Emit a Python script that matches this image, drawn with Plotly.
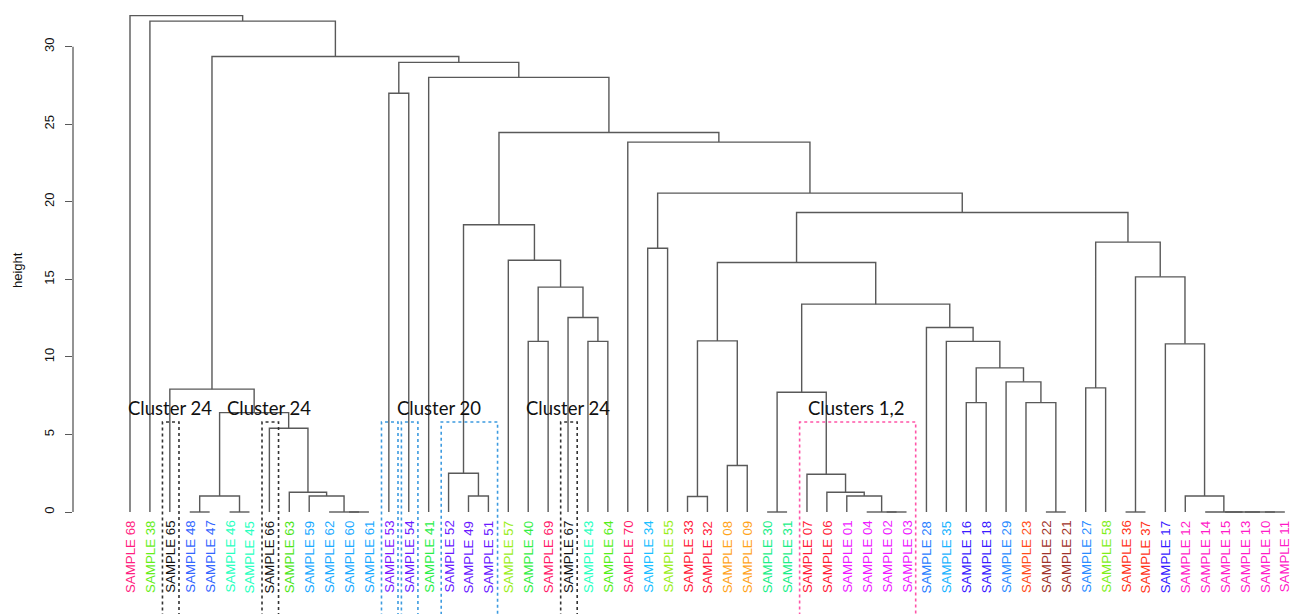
import plotly.graph_objects as go

# ---------------- data ----------------
leaf_labels = [
    "SAMPLE 68", "SAMPLE 38", "SAMPLE 65", "SAMPLE 48", "SAMPLE 47", "SAMPLE 46", "SAMPLE 45",
    "SAMPLE 66", "SAMPLE 63", "SAMPLE 59", "SAMPLE 62", "SAMPLE 60", "SAMPLE 61", "SAMPLE 53",
    "SAMPLE 54", "SAMPLE 41", "SAMPLE 52", "SAMPLE 49", "SAMPLE 51", "SAMPLE 57", "SAMPLE 40",
    "SAMPLE 69", "SAMPLE 67", "SAMPLE 43", "SAMPLE 64", "SAMPLE 70", "SAMPLE 34", "SAMPLE 55",
    "SAMPLE 33", "SAMPLE 32", "SAMPLE 08", "SAMPLE 09", "SAMPLE 30", "SAMPLE 31", "SAMPLE 07",
    "SAMPLE 06", "SAMPLE 01", "SAMPLE 04", "SAMPLE 02", "SAMPLE 03", "SAMPLE 28", "SAMPLE 35",
    "SAMPLE 16", "SAMPLE 18", "SAMPLE 29", "SAMPLE 23", "SAMPLE 22", "SAMPLE 21", "SAMPLE 27",
    "SAMPLE 58", "SAMPLE 36", "SAMPLE 37", "SAMPLE 17", "SAMPLE 12", "SAMPLE 14", "SAMPLE 15",
    "SAMPLE 13", "SAMPLE 10", "SAMPLE 11",
]

leaf_colors = [
    "#ff1e82", "#66ee1a", "#111111", "#3366ff", "#3366ff", "#2affc0", "#2affc0",
    "#111111", "#4ce61a", "#1aaaff", "#1aaaff", "#1aaaff", "#1aaaff", "#7b1aff",
    "#6a1aff", "#2aee4a", "#6a1aff", "#6a1aff", "#6a1aff", "#99ee1a", "#33ee44",
    "#ff1a6a", "#111111", "#2affc0", "#55ee1a", "#ff1a6a", "#1ac0ff", "#99ee1a",
    "#ff1a3a", "#ff1a3a", "#ffa31a", "#ffa31a", "#1aee88", "#1aee88", "#ff1a3a",
    "#ff1a3a", "#ee1aff", "#ee1aff", "#ee1aff", "#ee1aff", "#2a80ff", "#1ab3ff",
    "#3a1aff", "#3a1aff", "#2a8cff", "#ff4d1a", "#a0322a", "#a0322a", "#2a8cff",
    "#80ee1a", "#ff331a", "#ff331a", "#3a1aff", "#ff1ac8", "#ff1ac8", "#ff1ac8",
    "#ff1ac8", "#ff1ac8", "#ff1ac8",
]

# merge table (bottom-up): node name, left child, right child, merge height
node_names = [
    "n1", "n2", "F", "n3", "J", "I", "H", "G", "E", "C",
    "K", "n4", "P", "S", "U", "T", "R", "Q", "N", "W",
    "n5", "n6", "AA", "n7", "n8", "AC5", "AC4", "AC3", "AC2", "AC",
    "n9", "AH", "AG", "n10", "AF", "AE", "AD", "AB", "Y", "n11",
    "n12", "n13", "n14", "n15", "ZD", "ZC", "ZB", "ZA", "Z", "X",
    "V", "O", "M", "L", "D", "B", "A", "root",
]
node_left = [
    "SAMPLE 48", "SAMPLE 46", "n1", "SAMPLE 60", "SAMPLE 62", "SAMPLE 59", "SAMPLE 63", "SAMPLE 66", "F", "SAMPLE 65",
    "SAMPLE 53", "SAMPLE 49", "SAMPLE 52", "SAMPLE 40", "SAMPLE 43", "SAMPLE 67", "S", "SAMPLE 57", "P", "SAMPLE 34",
    "SAMPLE 33", "SAMPLE 08", "n5", "SAMPLE 30", "SAMPLE 02", "SAMPLE 04", "SAMPLE 01", "SAMPLE 06", "SAMPLE 07", "n7",
    "SAMPLE 22", "SAMPLE 23", "SAMPLE 29", "SAMPLE 16", "n10", "SAMPLE 35", "SAMPLE 28", "AC", "AA", "SAMPLE 27",
    "SAMPLE 36", "SAMPLE 10", "SAMPLE 13", "SAMPLE 15", "SAMPLE 14", "SAMPLE 12", "SAMPLE 17", "n12", "n11", "Y",
    "W", "SAMPLE 70", "N", "SAMPLE 41", "K", "C", "SAMPLE 38", "SAMPLE 68",
]
node_right = [
    "SAMPLE 47", "SAMPLE 45", "n2", "SAMPLE 61", "n3", "J", "I", "H", "G", "E",
    "SAMPLE 54", "SAMPLE 51", "n4", "SAMPLE 69", "SAMPLE 64", "U", "T", "R", "Q", "SAMPLE 55",
    "SAMPLE 32", "SAMPLE 09", "n6", "SAMPLE 31", "SAMPLE 03", "n8", "AC5", "AC4", "AC3", "AC2",
    "SAMPLE 21", "n9", "AH", "SAMPLE 18", "AG", "AF", "AE", "AD", "AB", "SAMPLE 58",
    "SAMPLE 37", "SAMPLE 11", "n13", "n14", "n15", "ZD", "ZC", "ZB", "ZA", "Z",
    "X", "V", "O", "M", "L", "D", "B", "A",
]
node_heights = [
    0.0, 0.0, 1.03, 0.0, 0.0, 1.03, 1.27, 5.40, 6.41, 7.92,
    27.0, 1.03, 2.50, 11.0, 11.0, 12.54, 14.5, 16.23, 18.52, 17.0,
    1.0, 3.0, 11.03, 0.0, 0.0, 0.0, 1.03, 1.27, 2.43, 7.72,
    0.0, 7.05, 8.39, 7.05, 9.29, 11.0, 11.9, 13.4, 16.09, 8.0,
    0.0, 0.0, 0.0, 0.0, 0.0, 1.03, 10.84, 15.16, 17.4, 19.31,
    20.56, 23.85, 24.47, 28.02, 28.99, 29.37, 31.65, 32.0,
]

# dotted highlight boxes
box_first = ["SAMPLE 65", "SAMPLE 66", "SAMPLE 53", "SAMPLE 54", "SAMPLE 52", "SAMPLE 67", "SAMPLE 07"]
box_last = ["SAMPLE 65", "SAMPLE 66", "SAMPLE 53", "SAMPLE 54", "SAMPLE 51", "SAMPLE 67", "SAMPLE 03"]
box_colors = ["#333333", "#333333", "#3d9be0", "#3d9be0", "#3d9be0", "#333333", "#ff55a8"]
box_top = 5.8

# cluster captions
cluster_texts = ["Cluster 24", "Cluster 24", "Cluster 20", "Cluster 24", "Clusters 1,2"]
cluster_first = ["SAMPLE 65", "SAMPLE 66", "SAMPLE 53", "SAMPLE 67", "SAMPLE 07"]
cluster_last = ["SAMPLE 65", "SAMPLE 66", "SAMPLE 51", "SAMPLE 67", "SAMPLE 03"]
cluster_caption_height = 6.7

y_ticks = [0, 5, 10, 15, 20, 25, 30]
y_title = "height"

# ---------------- build dendrogram geometry from merge table ----------------
pos = {lab: i + 1 for i, lab in enumerate(leaf_labels)}
hgt = {lab: 0.0 for lab in leaf_labels}
xs, ys = [], []
for name, a, b, h in zip(node_names, node_left, node_right, node_heights):
    xa, xb = pos[a], pos[b]
    xs += [xa, xa, xb, xb, None]
    ys += [hgt[a], h, h, hgt[b], None]
    pos[name] = (xa + xb) / 2.0
    hgt[name] = h

LINE = "#595959"
fig = go.Figure()
fig.add_trace(go.Scatter(x=xs, y=ys, mode="lines",
                         line=dict(color=LINE, width=1.4),
                         hoverinfo="skip", showlegend=False))

Y_MIN, Y_MAX = -6.576, 33.01
X_MIN, X_MAX = -1.863, 59.36

annotations = []
# leaf labels
for lab, col in zip(leaf_labels, leaf_colors):
    annotations.append(dict(
        x=pos[lab], y=0, xref="x", yref="y", text=lab, showarrow=False,
        textangle=-90, xanchor="center", yanchor="top", yshift=-7,
        font=dict(family="Liberation Sans, Arial, sans-serif", size=13.3, color=col),
    ))

# boxes
shapes = []
for f, l, c in zip(box_first, box_last, box_colors):
    shapes.append(dict(type="rect", xref="x", yref="y",
                       x0=pos[f] - 0.37, x1=pos[l] + 0.46, y0=Y_MIN - 1, y1=box_top,
                       line=dict(color=c, width=1.6, dash="dot"), fillcolor="rgba(0,0,0,0)",
                       layer="above"))

# cluster captions
for t, f, l in zip(cluster_texts, cluster_first, cluster_last):
    annotations.append(dict(
        x=(pos[f] + pos[l]) / 2.0, y=cluster_caption_height, xref="x", yref="y",
        text=t, showarrow=False, xanchor="center", yanchor="middle",
        font=dict(family="Lato, Carlito, sans-serif", size=18.5, color="#111111"),
        bgcolor="rgba(0,0,0,0)",
    ))

# y axis title
annotations.append(dict(
    x=0, xref="paper", xshift=-56, y=15.6, yref="y", text=y_title, showarrow=False,
    textangle=-90, xanchor="center", yanchor="middle",
    font=dict(family="Liberation Sans, Arial, sans-serif", size=13, color="#111111"),
))

# R-style axis line limited to tick span
shapes.append(dict(type="line", xref="paper", yref="y", x0=0, x1=0,
                   y0=min(y_ticks), y1=max(y_ticks), line=dict(color=LINE, width=1.3)))

fig.update_layout(
    width=1292, height=614,
    margin=dict(l=73, r=0, t=0, b=0),
    paper_bgcolor="white", plot_bgcolor="white",
    showlegend=False,
    xaxis=dict(range=[X_MIN, X_MAX], visible=False, fixedrange=True),
    yaxis=dict(range=[Y_MIN, Y_MAX], tickvals=y_ticks, ticktext=[str(v) for v in y_ticks],
               showgrid=False, zeroline=False, showline=False,
               ticks="outside", ticklen=7, tickwidth=1.3, tickcolor=LINE,
               tickangle=-90, ticklabelstandoff=6,
               tickfont=dict(family="Liberation Sans, Arial, sans-serif", size=13, color="#111111")),
    annotations=annotations,
    shapes=shapes,
)

fig.write_html("out.html", config={"displayModeBar": False},
               post_script="document.body.style.margin='0';document.body.style.overflow='hidden';")
